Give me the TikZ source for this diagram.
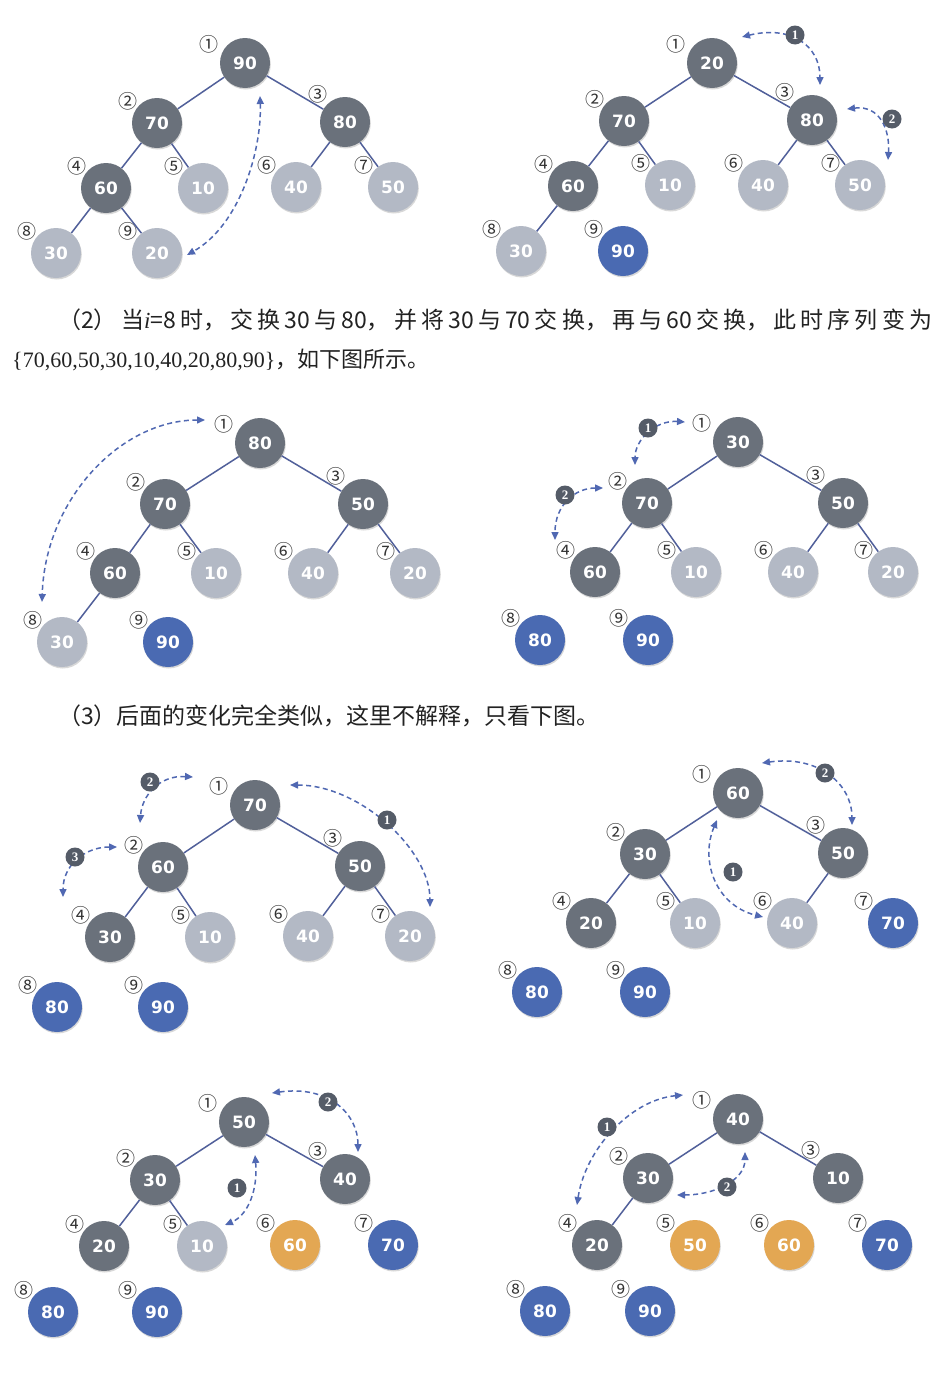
\documentclass[tikz,border=0pt]{standalone}
\usepackage{fontspec}
\usetikzlibrary{calc,shadows,arrows.meta}
\newfontfamily\cjk{Noto Sans CJK SC}
\newfontfamily\dvs{DejaVu Sans}
\newfontfamily\lser{Liberation Serif}
\XeTeXlinebreaklocale "zh"
\XeTeXlinebreakskip=0pt plus 8pt
\definecolor{cDark}{HTML}{6A717B}
\definecolor{cLight}{HTML}{B3B9C5}
\definecolor{cBlue}{HTML}{4A6AB2}
\definecolor{cOrange}{HTML}{E3A753}
\definecolor{cEdge}{HTML}{51609A}
\definecolor{cArrow}{HTML}{5068B2}
\definecolor{cBadge}{HTML}{555C68}
\definecolor{cIdx}{HTML}{333333}
\definecolor{cText}{HTML}{222222}
\tikzset{
  hnode/.style={circle, minimum size=50pt, inner sep=0pt, text=white,
    font=\dvs\bfseries\fontsize{17}{17}\selectfont,
    drop shadow={opacity=0.3, shadow xshift=0.8pt, shadow yshift=-1.5pt}},
  ndk/.style={hnode, fill=cDark},
  nlt/.style={hnode, fill=cLight},
  nbl/.style={hnode, fill=cBlue},
  nor/.style={hnode, fill=cOrange},
  idx/.style={inner sep=0pt, text=cIdx, font=\cjk\fontsize{19}{19}\selectfont},
  tedge/.style={draw=cEdge, line width=1.5pt},
  swp/.style={draw=cArrow, line width=1.5pt, dash pattern=on 5pt off 3.5pt,
    {Triangle[length=8pt,width=7pt]}-{Triangle[length=8pt,width=7pt]}},
  badge/.style={circle, fill=cBadge, text=white, minimum size=19pt, inner sep=0pt,
    font=\lser\bfseries\fontsize{13}{13}\selectfont},
  txt/.style={inner sep=0pt, anchor=west, text=cText},
}
\newcommand\hn[6]{%
  \ifcase#2\or\def\hox{-36}\def\hoy{-19}\or\def\hox{-29}\def\hoy{-22}\or\def\hox{-27}\def\hoy{-28}\else\def\hox{-29}\def\hoy{-22}\fi
  \node[#5] (#1#2) at (#3,#4) {#6};
  \node[idx] (#1#2i) at ($(#1#2)+(\hox,\hoy)$) {\ifcase#2\or ①\or ②\or ③\or ④\or ⑤\or ⑥\or ⑦\or ⑧\or ⑨\fi};
}
\begin{document}
\begin{tikzpicture}[x=1pt,y=-1pt]
\fill[white] (0,0) rectangle (950,1376);
\useasboundingbox (0,0) rectangle (950,1376);

% ---------- panel a ----------
\hn{a}{1}{245}{63}{ndk}{90}
\hn{a}{2}{157}{123}{ndk}{70}
\hn{a}{3}{345}{122}{ndk}{80}
\hn{a}{4}{106}{188}{ndk}{60}
\hn{a}{5}{203}{188}{nlt}{10}
\hn{a}{6}{296}{187}{nlt}{40}
\hn{a}{7}{393}{187}{nlt}{50}
\hn{a}{8}{56}{253}{nlt}{30}
\hn{a}{9}{157}{253}{nlt}{20}
\foreach \p/\q in {a1/a2,a1/a3,a2/a4,a2/a5,a3/a6,a3/a7,a4/a8,a4/a9} \draw[tedge] (\p) -- (\q);
\coordinate (as) at (260,96);
\coordinate (ae) at (187,255);
\draw[swp] (as) .. controls (262,150) and (240,225) .. (ae);

% ---------- panel b ----------
\hn{b}{1}{712}{63}{ndk}{20}
\hn{b}{2}{624}{121}{ndk}{70}
\hn{b}{3}{812}{120}{ndk}{80}
\hn{b}{4}{573}{186}{ndk}{60}
\hn{b}{5}{670}{185}{nlt}{10}
\hn{b}{6}{763}{185}{nlt}{40}
\hn{b}{7}{860}{185}{nlt}{50}
\hn{b}{8}{521}{251}{nlt}{30}
\hn{b}{9}{623}{251}{nbl}{90}
\foreach \p/\q in {b1/b2,b1/b3,b2/b4,b2/b5,b3/b6,b3/b7,b4/b8} \draw[tedge] (\p) -- (\q);
\coordinate (bs1) at (742,37);
\coordinate (be1) at (820,85);
\draw[swp] (bs1) .. controls (790,25) and (820,45) .. (be1);
\coordinate (bs2) at (847,109);
\coordinate (be2) at (888,160);
\draw[swp] (bs2) .. controls (880,105) and (890,130) .. (be2);
\node[badge] (bb1) at (795,35) {1};
\node[badge] (bb2) at (892,119) {2};

% ---------- text ----------
\node[txt, text width=874pt, align=justify] (t1) at (58,320) {\cjk\fontsize{23}{26}\selectfont\parfillskip=0pt\relax（2）当{\lser\itshape i}=8时，交换30与80，并将30与70交换，再与60交换，此时序列变为\par};
\node[txt] (t2) at (12,360) {\lser\fontsize{22}{22}\selectfont\{70,60,50,30,10,40,20,80,90\}{\cjk，如下图所示。}};

% ---------- panel c ----------
\hn{c}{1}{260}{443}{ndk}{80}
\hn{c}{2}{165}{504}{ndk}{70}
\hn{c}{3}{363}{504}{ndk}{50}
\hn{c}{4}{115}{573}{ndk}{60}
\hn{c}{5}{216}{573}{nlt}{10}
\hn{c}{6}{313}{573}{nlt}{40}
\hn{c}{7}{415}{573}{nlt}{20}
\hn{c}{8}{62}{642}{nlt}{30}
\hn{c}{9}{168}{642}{nbl}{90}
\foreach \p/\q in {c1/c2,c1/c3,c2/c4,c2/c5,c3/c6,c3/c7,c4/c8} \draw[tedge] (\p) -- (\q);
\coordinate (cs) at (205,420);
\coordinate (ce) at (42,602);
\draw[swp] (cs) .. controls (120,420) and (45,500) .. (ce);

% ---------- panel d ----------
\hn{d}{1}{738}{442}{ndk}{30}
\hn{d}{2}{647}{503}{ndk}{70}
\hn{d}{3}{843}{503}{ndk}{50}
\hn{d}{4}{595}{572}{ndk}{60}
\hn{d}{5}{696}{572}{nlt}{10}
\hn{d}{6}{793}{572}{nlt}{40}
\hn{d}{7}{893}{572}{nlt}{20}
\hn{d}{8}{540}{640}{nbl}{80}
\hn{d}{9}{648}{640}{nbl}{90}
\foreach \p/\q in {d1/d2,d1/d3,d2/d4,d2/d5,d3/d6,d3/d7} \draw[tedge] (\p) -- (\q);
\coordinate (ds1) at (685,422);
\coordinate (de1) at (635,465);
\draw[swp] (ds1) .. controls (655,420) and (635,440) .. (de1);
\coordinate (ds2) at (603,488);
\coordinate (de2) at (555,540);
\draw[swp] (ds2) .. controls (575,488) and (555,505) .. (de2);
\node[badge] (db1) at (648,428) {1};
\node[badge] (db2) at (565,495) {2};

% ---------- text ----------
\node[txt] (t3) at (58,716) {\cjk\fontsize{23}{23}\selectfont（3）后面的变化完全类似，这里不解释，只看下图。};

% ---------- panel e ----------
\hn{e}{1}{255}{805}{ndk}{70}
\hn{e}{2}{163}{867}{ndk}{60}
\hn{e}{3}{360}{866}{ndk}{50}
\hn{e}{4}{110}{937}{ndk}{30}
\hn{e}{5}{210}{937}{nlt}{10}
\hn{e}{6}{308}{936}{nlt}{40}
\hn{e}{7}{410}{936}{nlt}{20}
\hn{e}{8}{57}{1007}{nbl}{80}
\hn{e}{9}{163}{1007}{nbl}{90}
\foreach \p/\q in {e1/e2,e1/e3,e2/e4,e2/e5,e3/e6,e3/e7} \draw[tedge] (\p) -- (\q);
\coordinate (es1) at (290,785);
\coordinate (ee1) at (430,907);
\draw[swp] (es1) .. controls (360,785) and (430,850) .. (ee1);
\coordinate (es2) at (193,777);
\coordinate (ee2) at (140,823);
\draw[swp] (es2) .. controls (160,775) and (142,795) .. (ee2);
\coordinate (es3) at (117,847);
\coordinate (ee3) at (63,897);
\draw[swp] (es3) .. controls (85,847) and (63,865) .. (ee3);
\node[badge] (eb1) at (387,820) {1};
\node[badge] (eb2) at (150,782) {2};
\node[badge] (eb3) at (75,857) {3};

% ---------- panel f ----------
\hn{f}{1}{738}{793}{ndk}{60}
\hn{f}{2}{645}{854}{ndk}{30}
\hn{f}{3}{843}{853}{ndk}{50}
\hn{f}{4}{591}{923}{ndk}{20}
\hn{f}{5}{695}{923}{nlt}{10}
\hn{f}{6}{792}{923}{nlt}{40}
\hn{f}{7}{893}{923}{nbl}{70}
\hn{f}{8}{537}{992}{nbl}{80}
\hn{f}{9}{645}{992}{nbl}{90}
\foreach \p/\q in {f1/f2,f1/f3,f2/f4,f2/f5,f3/f6} \draw[tedge] (\p) -- (\q);
\coordinate (fs2) at (762,763);
\coordinate (fe2) at (852,825);
\draw[swp] (fs2) .. controls (820,755) and (852,785) .. (fe2);
\coordinate (fs1) at (717,820);
\coordinate (fe1) at (763,917);
\draw[swp] (fs1) .. controls (700,860) and (715,905) .. (fe1);
\node[badge] (fb2) at (825,773) {2};
\node[badge] (fb1) at (733,872) {1};

% ---------- panel g ----------
\hn{g}{1}{244}{1122}{ndk}{50}
\hn{g}{2}{155}{1180}{ndk}{30}
\hn{g}{3}{345}{1179}{ndk}{40}
\hn{g}{4}{104}{1246}{ndk}{20}
\hn{g}{5}{202}{1246}{nlt}{10}
\hn{g}{6}{295}{1245}{nor}{60}
\hn{g}{7}{393}{1245}{nbl}{70}
\hn{g}{8}{53}{1312}{nbl}{80}
\hn{g}{9}{157}{1312}{nbl}{90}
\foreach \p/\q in {g1/g2,g1/g3,g2/g4,g2/g5} \draw[tedge] (\p) -- (\q);
\coordinate (gs2) at (272,1093);
\coordinate (ge2) at (358,1152);
\draw[swp] (gs2) .. controls (330,1085) and (358,1115) .. (ge2);
\coordinate (gs1) at (255,1155);
\coordinate (ge1) at (225,1225);
\draw[swp] (gs1) .. controls (258,1190) and (248,1215) .. (ge1);
\node[badge] (gb2) at (328,1102) {2};
\node[badge] (gb1) at (237,1188) {1};

% ---------- panel h ----------
\hn{h}{1}{738}{1119}{ndk}{40}
\hn{h}{2}{648}{1178}{ndk}{30}
\hn{h}{3}{838}{1178}{ndk}{10}
\hn{h}{4}{597}{1245}{ndk}{20}
\hn{h}{5}{695}{1245}{nor}{50}
\hn{h}{6}{789}{1245}{nor}{60}
\hn{h}{7}{887}{1245}{nbl}{70}
\hn{h}{8}{545}{1311}{nbl}{80}
\hn{h}{9}{650}{1311}{nbl}{90}
\foreach \p/\q in {h1/h2,h1/h3,h2/h4} \draw[tedge] (\p) -- (\q);
\coordinate (hs1) at (683,1095);
\coordinate (he1) at (577,1205);
\draw[swp] (hs1) .. controls (630,1100) and (585,1150) .. (he1);
\coordinate (hs2) at (677,1195);
\coordinate (he2) at (745,1152);
\draw[swp] (hs2) .. controls (715,1195) and (745,1180) .. (he2);
\node[badge] (hb1) at (607,1127) {1};
\node[badge] (hb2) at (727,1187) {2};
\end{tikzpicture}
\end{document}
